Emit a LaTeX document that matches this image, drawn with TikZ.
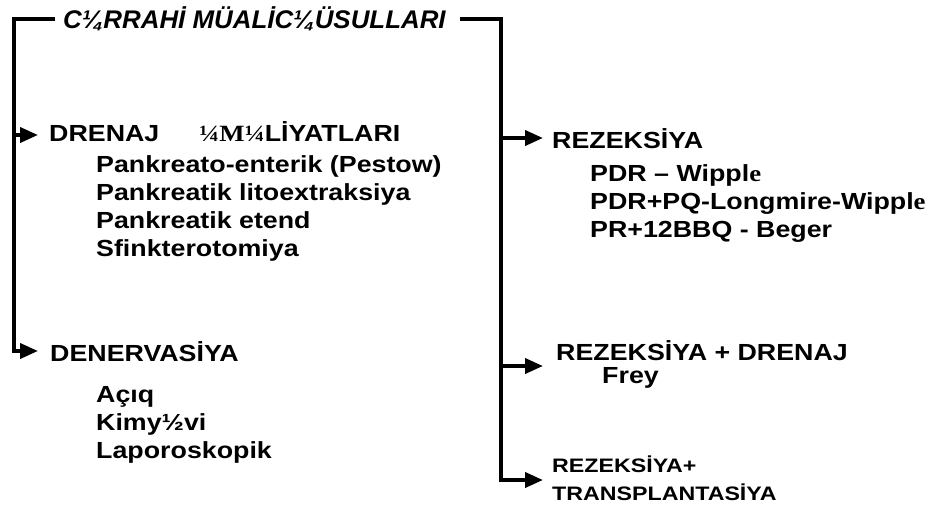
\documentclass[tikz,border=0pt]{standalone}
\usepackage{fontspec}
\setmainfont{Liberation Sans}
\newfontfamily\af[FakeStretch=1.15]{Liberation Sans}
\newfontfamily\sm[FakeStretch=1.19]{Liberation Sans}
\newfontfamily\tf[FakeStretch=1.015]{Liberation Sans}
\newfontfamily\tnr[FakeStretch=1.15]{Liberation Serif}
\usetikzlibrary{arrows.meta}
\begin{document}
\begin{tikzpicture}[x=1pt,y=-1pt,
  arr/.style={line width=3.8pt,-{Triangle[length=18pt,width=15pt]}},
  txt/.style={anchor=base west,inner sep=0pt,font=\af\bfseries\fontsize{23.3}{27}\selectfont},
  small/.style={anchor=base west,inner sep=0pt,font=\sm\bfseries\fontsize{19.5}{23}\selectfont},
  ttl/.style={anchor=base west,inner sep=0pt,font=\tf\bfseries\itshape\fontsize{25.5}{30}\selectfont}]
\fill[white] (0,0) rectangle (931,507);
\useasboundingbox (0,0) rectangle (931,507);
% title
\node[ttl] (title) at (63,28) {C¼RRAHİ MÜALİC¼ÜSULLARI};
% left column
\node[txt] (dren) at (49,141) {DRENAJ\hspace{40pt}{\tnr\bfseries ¼M¼}LİYATLARI};
\node[txt] (d1) at (96,172) {Pankreato-enterik (Pestow)};
\node[txt] (d2) at (96,200) {Pankreatik litoextraksiya};
\node[txt] (d3) at (96,228) {Pankreatik etend};
\node[txt] (d4) at (96,256) {Sfinkterotomiya};
\node[txt] (den) at (50,361) {DENERVASİYA};
\node[txt] (n1) at (96,402) {Açıq};
\node[txt] (n2) at (96,430) {Kimy½vi};
\node[txt] (n3) at (96,458) {Laporoskopik};
% right column
\node[txt] (rez) at (552,148) {REZEKSİYA};
\node[txt] (r1) at (590,181) {PDR – Wippl{\tnr\bfseries e}};
\node[txt] (r2) at (590,209) {PDR+PQ-Longmire-Wippl{\tnr\bfseries e}};
\node[txt] (r3) at (590,237) {PR+12BBQ - Beger};
\node[txt] (rd) at (556,360) {REZEKSİYA + DRENAJ};
\node[txt] (fr) at (602,383) {Frey};
\node[small] (rt1) at (552,472) {REZEKSİYA+};
\node[small] (rt2) at (552,500) {TRANSPLANTASİYA};
% frame coordinates
\coordinate (la) at (55,19);
\coordinate (lt) at (14,19);
\coordinate (lb) at (14,351);
\coordinate (lm) at (14,135);
\coordinate (ra) at (460,19);
\coordinate (rt) at (501,19);
\coordinate (rb) at (501,480);
\coordinate (rm1) at (501,138);
\coordinate (rm2) at (501,366);
\coordinate (tipd) at (38,135);
\coordinate (tipn) at (38,351);
\coordinate (tipr1) at (543,138);
\coordinate (tipr2) at (543,366);
\coordinate (tipr3) at (543,480);
% connectors
\draw[arr,line join=miter] (la) -- (lt) -- (lb) -- (tipn);
\draw[arr] (lm) -- (tipd);
\draw[arr,line join=miter] (ra) -- (rt) -- (rb) -- (tipr3);
\draw[arr] (rm1) -- (tipr1);
\draw[arr] (rm2) -- (tipr2);
\end{tikzpicture}
\end{document}
